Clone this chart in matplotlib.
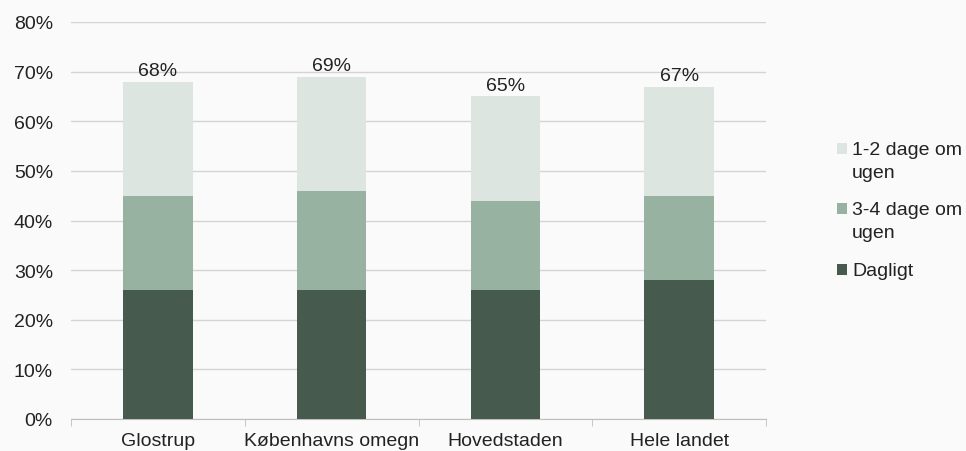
import matplotlib.pyplot as plt
import numpy as np
from matplotlib.patches import Rectangle

plt.rcParams['font.family'] = ['Liberation Sans', 'DejaVu Sans']

categories = ['Glostrup', 'Københavns omegn', 'Hovedstaden', 'Hele landet']
dagligt = [26, 26, 26, 28]
dage_3_4 = [19, 20, 18, 17]
dage_1_2 = [23, 23, 21, 22]
totals = [68, 69, 65, 67]

c_dark = '#465a4d'
c_mid = '#97b2a0'
c_light = '#dce5e0'
txt = '#222222'

W, H = 966, 452
fig = plt.figure(figsize=(W / 100, H / 100), dpi=100, facecolor='#fafafa')
ax = fig.add_axes([71 / W, 32 / H, 695 / W, 397 / H])
ax.set_facecolor('#fafafa')

x = np.arange(len(categories))
d = np.array(dagligt) / 100
m = np.array(dage_3_4) / 100
l = np.array(dage_1_2) / 100
w = 0.40
ax.bar(x, d, w, color=c_dark, zorder=3)
ax.bar(x, m, w, bottom=d, color=c_mid, zorder=3)
ax.bar(x, l, w, bottom=d + m, color=c_light, zorder=3)

for xi, t in zip(x, totals):
    ax.annotate(f'{t}%', (xi, t / 100), xytext=(0, 4.5), textcoords='offset points',
                ha='center', va='baseline', fontsize=14, color=txt)

ax.set_xlim(-0.5, len(categories) - 0.5)
ax.set_ylim(0, 0.8)
yt = np.arange(0, 0.81, 0.1)
ax.set_yticks(yt)
ax.set_yticklabels([f'{int(round(v * 100))}%' for v in yt], fontsize=14, color=txt)
ax.yaxis.grid(True, color='#d4d4d4', linewidth=1, zorder=0)
ax.tick_params(axis='y', length=0, pad=13)

ax.set_xticks(x)
ax.set_xticklabels(categories, fontsize=14, color=txt)
ax.set_xticks(np.arange(-0.5, len(categories)), minor=True)
ax.tick_params(axis='x', which='major', length=0, pad=9.5)
ax.tick_params(axis='x', which='minor', length=5, color='#bfbfbf', direction='out')

for s in ['top', 'right', 'left']:
    ax.spines[s].set_visible(False)
ax.spines['bottom'].set_color('#bfbfbf')

# legend drawn by hand so the swatch sits on the first text line
legend_items = [(c_light, ['1-2 dage om', 'ugen'], 155),
                (c_mid, ['3-4 dage om', 'ugen'], 215),
                (c_dark, ['Dagligt'], 276)]
for col, lines, base in legend_items:
    fig.patches.append(Rectangle((837 / W, 1 - base / H), 10 / W, 11 / H,
                                 transform=fig.transFigure, facecolor=col, edgecolor='none'))
    for i, s in enumerate(lines):
        fig.text(852 / W, 1 - (base + 23 * i) / H, s, fontsize=14, color=txt,
                 ha='left', va='baseline')

fig.savefig('out.png', dpi=100, facecolor=fig.get_facecolor())
